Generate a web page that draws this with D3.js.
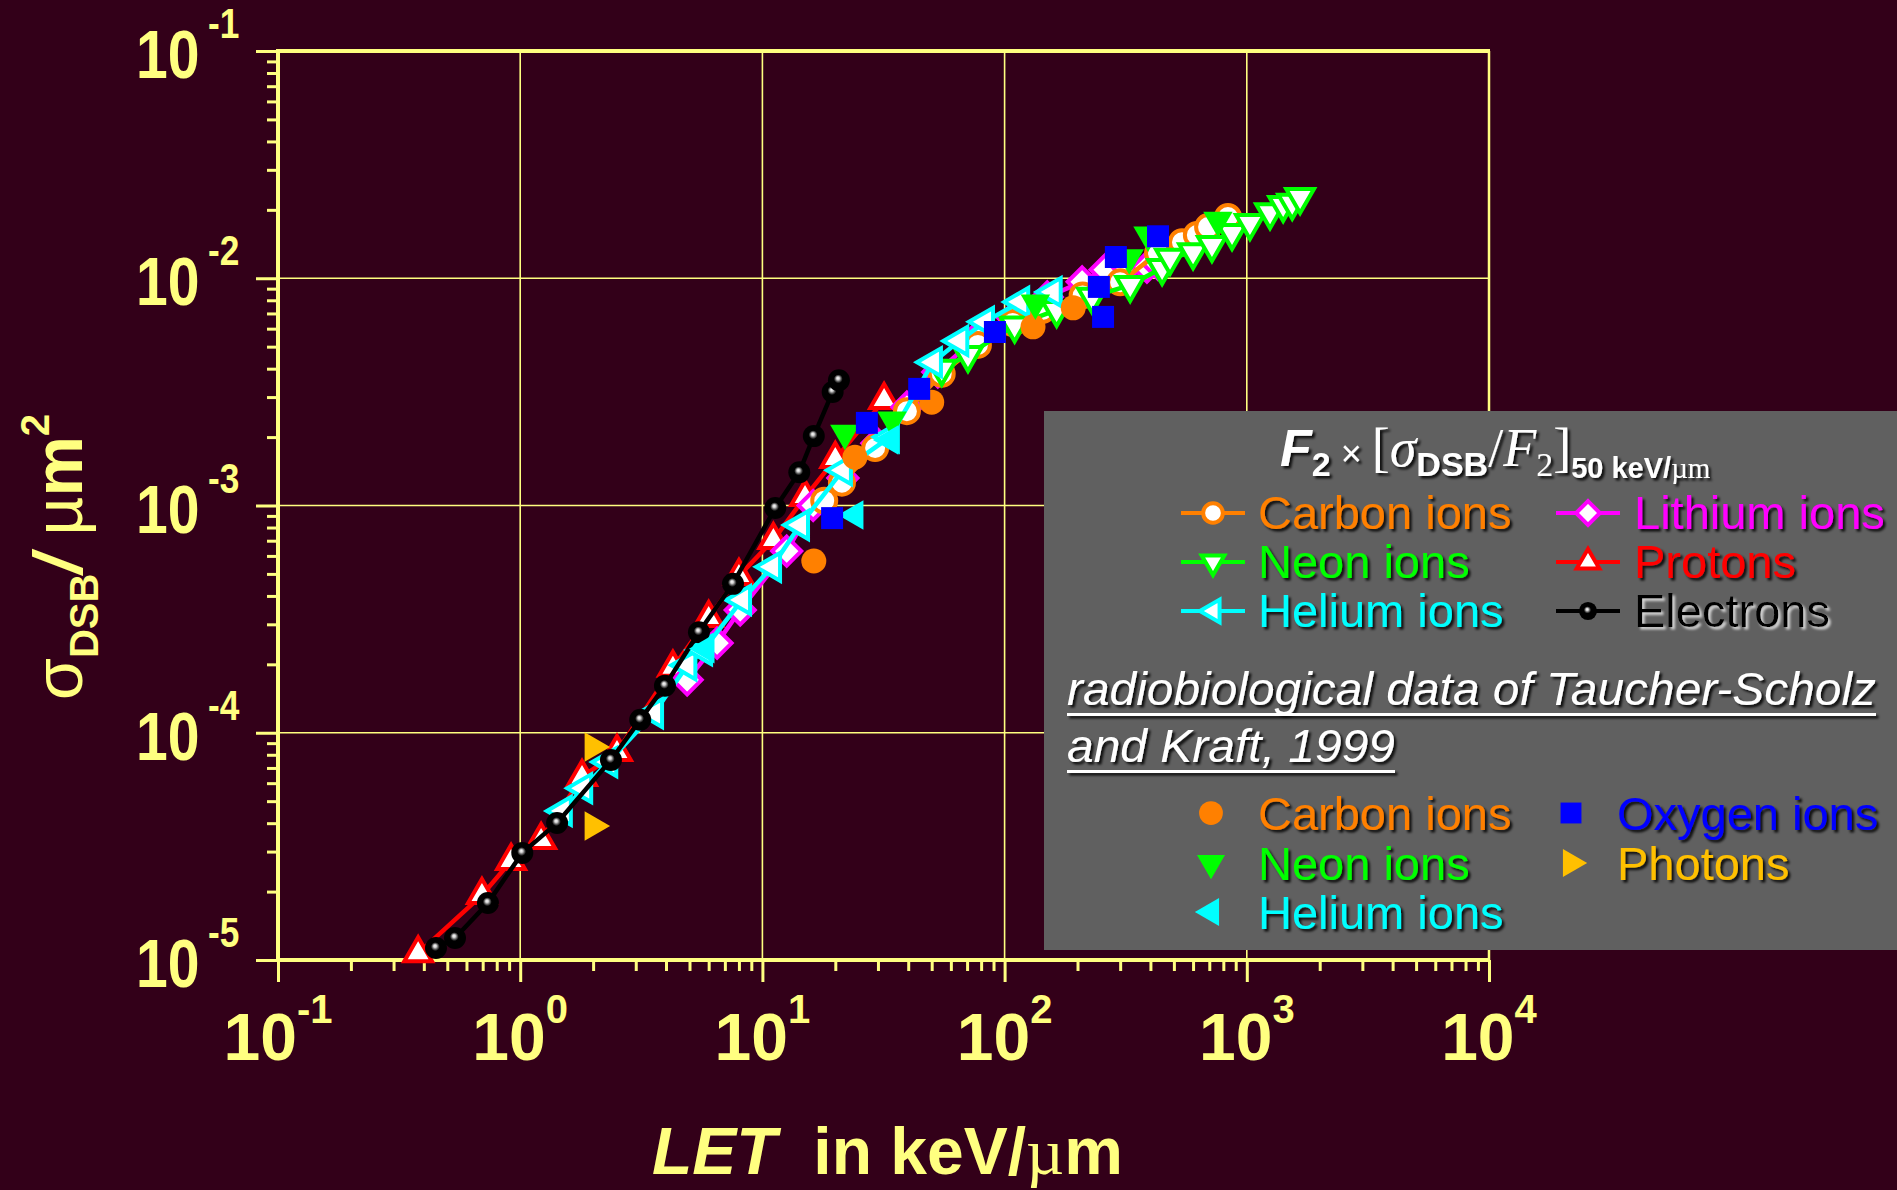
<!DOCTYPE html>
<html>
<head>
<meta charset="utf-8">
<script src="https://cdn.jsdelivr.net/npm/d3@7"></script>
<style>
  html, body { margin: 0; padding: 0; background: #330019; overflow: hidden; }
  text { font-family: "Liberation Sans", Arial, sans-serif; }
</style>
</head>
<body>
<svg id="chart" width="1897" height="1190"></svg>
<script>
// ---- data: [LET keV/um, sigma_DSB um^2] ----
// model curves F2 x [sigma/F2]50keV/um
const electrons = [[0.449,1.13e-5],[0.538,1.25e-5],[0.736,1.78e-5],[1.02,2.96e-5],[1.42,4.01e-5],[2.37,7.59e-5],
  [3.13,1.14e-4],[3.96,1.61e-4],[5.47,2.77e-4],[7.56,4.52e-4],[11.3,9.75e-4],[14.2,1.40e-3],[16.3,2.02e-3],
  [19.5,3.16e-3],[20.7,3.56e-3]];
const protons = [[0.379,1.07e-5],[0.695,1.93e-5],[0.917,2.73e-5],[1.22,3.37e-5],[1.80,6.38e-5],[2.51,8.22e-5],
  [4.27,1.93e-4],[6.0,3.2e-4],[8.0,4.9e-4],[11.1,7.05e-4],[15.0,1.09e-3],[20.0,1.6e-3],[31.8,2.91e-3]];
const helium = [[1.50,4.53e-5],[1.82,5.7e-5],[2.31,7.43e-5],[3.57,1.22e-4],[4.9,1.98e-4],[5.69,2.31e-4],
  [8.24,3.84e-4],[10.96,5.37e-4],[14.3,8.2e-4],[21.5,1.43e-3],[33.6,2.0e-3],[50.6,4.27e-3],[65,5.3e-3],
  [83,6.43e-3],[116,7.87e-3],[158,8.7e-3]];
const lithium = [[4.89,1.71e-4],[6.5,2.48e-4],[8.1,3.47e-4],[12.6,6.3e-4],[16.2,1.0e-3],[21.5,1.32e-3],
  [29.7,1.88e-3],[39.5,2.71e-3],[53,3.87e-3],[76.9,5.52e-3],[108,6.68e-3],[150,8.28e-3],[209,9.64e-3],
  [260,1.09e-2],[320,1.12e-2],[387,1.12e-2],[430,1.15e-2]];
const carbon = [[18,1.05e-3],[21.3,1.26e-3],[29.2,1.79e-3],[39.5,2.6e-3],[55,3.8e-3],[77.6,5.09e-3],
  [108,6.35e-3],[143,7.24e-3],[210,8.4e-3],[300,9.6e-3],[430,1.29e-2],[540,1.44e-2],[622,1.55e-2],
  [692,1.68e-2],[836,1.86e-2]];
const neon = [[55,4.0e-3],[70.6,4.6e-3],[110,6.2e-3],[164,7.24e-3],[230,8.3e-3],[330,9.33e-3],[447,1.11e-2],
  [482,1.23e-2],[600,1.3e-2],[718,1.4e-2],[869,1.58e-2],[1030,1.75e-2],[1247,1.95e-2],[1413,2.1e-2],
  [1540,2.15e-2],[1660,2.28e-2]];
// radiobiological data (Taucher-Scholz and Kraft, 1999)
const carbonData = [[16.3,5.7e-4],[24.1,1.63e-3],[50,2.85e-3],[131,6.11e-3],[192,7.41e-3]];
const oxygenData = [[19.4,8.8e-4],[27,2.31e-3],[44.4,3.26e-3],[91.2,5.8e-3],[245,9.16e-3],[255,6.76e-3],
  [288,1.24e-2],[430,1.53e-2]];
const neonData = [[21.9,2.08e-3],[34.3,2.38e-3],[134,7.78e-3],[327,1.23e-2],[391,1.55e-2],[760,1.8e-2]];
const heliumData = [[5.85,2.34e-4],[24.1,9.08e-4],[33.6,1.94e-3]];
const photonData = [[2.0,8.65e-5],[2.0,3.89e-5]];

const xDecades = [0.1, 1, 10, 100, 1000, 10000];
const xExponents = ["-1", "0", "1", "2", "3", "4"];
const yDecades = [1e-5, 1e-4, 1e-3, 1e-2, 1e-1];
const yExponents = ["-5", "-4", "-3", "-2", "-1"];

const YEL = "#ffff80";
const svg = d3.select("#chart");
svg.append("rect").attr("width", 1897).attr("height", 1190).attr("fill", "#330019");

const defs = svg.append("defs");
const f = defs.append("filter").attr("id", "shadow").attr("filterUnits", "userSpaceOnUse")
  .attr("x", 0).attr("y", 0).attr("width", 1897).attr("height", 1190);
f.append("feDropShadow").attr("dx", 2.5).attr("dy", 2.5).attr("stdDeviation", 1).attr("flood-color", "#000").attr("flood-opacity", 0.85);
const f2 = defs.append("filter").attr("id", "shadowLight").attr("filterUnits", "userSpaceOnUse")
  .attr("x", 0).attr("y", 0).attr("width", 1897).attr("height", 1190);
f2.append("feDropShadow").attr("dx", 2.5).attr("dy", 2.5).attr("stdDeviation", 1).attr("flood-color", "#e0e0e0").attr("flood-opacity", 0.9);
const g = defs.append("radialGradient").attr("id", "ball").attr("fx", 0.45).attr("fy", 0.4);
g.append("stop").attr("offset", "0%").attr("stop-color", "#ffffff");
g.append("stop").attr("offset", "14%").attr("stop-color", "#cccccc");
g.append("stop").attr("offset", "28%").attr("stop-color", "#555555");
g.append("stop").attr("offset", "40%").attr("stop-color", "#000000");

const x = d3.scaleLog().domain([0.1, 1e4]).range([278, 1489]);
const y = d3.scaleLog().domain([1e-5, 1e-1]).range([960, 51]);

// grid
const grid = svg.append("g").attr("stroke", YEL).attr("stroke-width", 1.6);
grid.selectAll("line.v").data(xDecades.slice(1, -1)).join("line")
  .attr("x1", d => x(d)).attr("x2", d => x(d)).attr("y1", y(1e-1)).attr("y2", y(1e-5));
grid.selectAll("line.h").data(yDecades.slice(1, -1)).join("line")
  .attr("x1", x(0.1)).attr("x2", x(1e4)).attr("y1", d => y(d)).attr("y2", d => y(d));

// ticks via d3 axes
const minorX = x.ticks().filter(d => !xDecades.some(v => Math.abs(v - d) / v < 1e-9));
const minorY = y.ticks().filter(d => !yDecades.some(v => Math.abs(v - d) / v < 1e-9));
function styleAxis(sel) {
  sel.select(".domain").remove();
  sel.selectAll(".tick line").attr("stroke", YEL).attr("stroke-width", 3);
  sel.selectAll(".tick text").remove();
}
svg.append("g").attr("transform", `translate(0,${y(1e-5)})`)
  .call(d3.axisBottom(x).tickValues(minorX).tickSize(11).tickFormat("")).call(styleAxis);
svg.append("g").attr("transform", `translate(0,${y(1e-5)})`)
  .call(d3.axisBottom(x).tickValues(xDecades).tickSize(22).tickFormat("")).call(styleAxis);
svg.append("g").attr("transform", `translate(${x(0.1)},0)`)
  .call(d3.axisLeft(y).tickValues(minorY).tickSize(11).tickFormat("")).call(styleAxis);
svg.append("g").attr("transform", `translate(${x(0.1)},0)`)
  .call(d3.axisLeft(y).tickValues(yDecades).tickSize(22).tickFormat("")).call(styleAxis);

// frame
const frame = svg.append("g").attr("stroke", YEL);
frame.append("line").attr("x1", x(0.1)).attr("x2", x(0.1)).attr("y1", y(1e-1) - 2).attr("y2", y(1e-5) + 2).attr("stroke-width", 4);
frame.append("line").attr("x1", x(0.1) - 2).attr("x2", x(1e4) + 1).attr("y1", y(1e-5)).attr("y2", y(1e-5)).attr("stroke-width", 4);
frame.append("line").attr("x1", x(0.1) - 2).attr("x2", x(1e4) + 1).attr("y1", y(1e-1)).attr("y2", y(1e-1)).attr("stroke-width", 4);
frame.append("line").attr("x1", x(1e4)).attr("x2", x(1e4)).attr("y1", y(1e-1)).attr("y2", y(1e-5)).attr("stroke-width", 2.5);

// tick labels
const xl = svg.append("g").attr("fill", YEL).attr("font-weight", "bold");
xDecades.forEach((d, i) => {
  const t = xl.append("text").attr("x", x(d)).attr("y", 1060).attr("text-anchor", "middle");
  t.append("tspan").attr("font-size", 66).text("10");
  t.append("tspan").attr("font-size", 40).attr("dy", -37).text(xExponents[i]);
});
const yl = svg.append("g").attr("fill", YEL).attr("font-weight", "bold");
yDecades.forEach((d, i) => {
  const t = yl.append("text").attr("transform", `translate(136,${y(d) + 27}) scale(0.84,1)`);
  t.append("tspan").attr("font-size", 68).text("10");
  t.append("tspan").attr("font-size", 42).attr("dx", 10).attr("dy", -40).text(yExponents[i]);
});

// axis titles
const xt = svg.append("text").attr("x", 652).attr("y", 1174).attr("fill", YEL).attr("font-weight", "bold").attr("font-size", 66);
xt.append("tspan").attr("font-style", "italic").text("LET");
xt.append("tspan").attr("xml:space", "preserve").text("  in keV/");
xt.append("tspan").attr("font-family", "'Liberation Serif', serif").attr("font-weight", "normal").text("µ");
xt.append("tspan").text("m");

const yt = svg.append("text").attr("transform", "translate(82,700) rotate(-90)").attr("fill", YEL).attr("font-size", 68);
yt.append("tspan").text("σ");
yt.append("tspan").attr("font-size", 40).attr("font-weight", "bold").attr("dy", 16).text("DSB");
yt.append("tspan").attr("font-weight", "bold").attr("font-style", "italic").attr("dy", -16).text("/");
yt.append("tspan").attr("xml:space", "preserve").text(" µ");
yt.append("tspan").attr("font-weight", "bold").text("m");
yt.append("tspan").attr("font-size", 40).attr("font-weight", "bold").attr("dy", -33).text("2");

// marker shapes
function shape(type, R) {
  const s = Math.sqrt(3) / 2;
  switch (type) {
    case "up": return `M0,${-R}L${s * R},${R / 2}L${-s * R},${R / 2}Z`;
    case "down": return `M0,${R}L${s * R},${-R / 2}L${-s * R},${-R / 2}Z`;
    case "left": return `M${-R},0L${R / 2},${-s * R}L${R / 2},${s * R}Z`;
    case "right": return `M${R},0L${-R / 2},${-s * R}L${-R / 2},${s * R}Z`;
    case "diamond": return `M0,${-R}L${R},0L0,${R}L${-R},0Z`;
    case "square": return `M${-R},${-R}H${R}V${R}H${-R}Z`;
    default: return `M${R},0A${R},${R} 0 1,1 ${-R},0A${R},${R} 0 1,1 ${R},0Z`;
  }
}

const modelSeries = [
  { name: "Protons", color: "#ff0000", type: "up", R: 16, data: protons },
  { name: "Lithium ions", color: "#ff00ff", type: "diamond", R: 14.5, data: lithium },
  { name: "Carbon ions", color: "#ff8000", type: "circle", R: 12, data: carbon },
  { name: "Neon ions", color: "#00ff00", type: "down", R: 16, data: neon },
  { name: "Helium ions", color: "#00ffff", type: "left", R: 16, data: helium },
  { name: "Electrons", color: "#000000", type: "ball", R: 11, data: electrons }
];
const dataSeries = [
  { name: "Carbon ions", color: "#ff8000", type: "circle", R: 12.5, data: carbonData },
  { name: "Neon ions", color: "#00ff00", type: "down", R: 17, data: neonData },
  { name: "Helium ions", color: "#00ffff", type: "left", R: 17, data: heliumData },
  { name: "Oxygen ions", color: "#0000ff", type: "square", R: 11, data: oxygenData },
  { name: "Photons", color: "#ffc000", type: "right", R: 17, data: photonData }
];

const line = d3.line().x(d => x(d[0])).y(d => y(d[1]));
const plot = svg.append("g");

function drawMarker(sel, s, open) {
  if (s.type === "ball") {
    sel.append("circle").attr("r", s.R).attr("fill", "url(#ball)");
  } else if (open) {
    sel.append("path").attr("d", shape(s.type, s.R)).attr("fill", "#ffffff")
      .attr("stroke", s.color).attr("stroke-width", 4).attr("stroke-linejoin", "miter");
  } else {
    sel.append("path").attr("d", shape(s.type, s.R)).attr("fill", s.color);
  }
}

modelSeries.forEach(s => {
  const gs = plot.append("g");
  gs.append("path").datum(s.data).attr("d", line).attr("fill", "none")
    .attr("stroke", s.color).attr("stroke-width", 4.5);
  gs.selectAll("g.m").data(s.data).join("g")
    .attr("transform", d => `translate(${x(d[0])},${y(d[1])})`)
    .each(function () { drawMarker(d3.select(this), s, true); });
});
dataSeries.forEach(s => {
  plot.append("g").selectAll("g").data(s.data).join("g")
    .attr("transform", d => `translate(${x(d[0])},${y(d[1])})`)
    .each(function () { drawMarker(d3.select(this), s, false); });
});

// legend
const lg = svg.append("g");
lg.append("rect").attr("x", 1044).attr("y", 411).attr("width", 860).attr("height", 539).attr("fill", "#606060");

const title = lg.append("text").attr("x", 1280).attr("y", 466).attr("fill", "#ffffff").attr("filter", "url(#shadow)");
title.append("tspan").attr("font-weight", "bold").attr("font-style", "italic").attr("font-size", 52).text("F");
title.append("tspan").attr("font-weight", "bold").attr("font-size", 34).attr("dy", 10).text("2");
title.append("tspan").attr("font-size", 36).attr("dy", -10).attr("xml:space", "preserve").text(" × ");
const serif = "'Liberation Serif', 'Times New Roman', serif";
title.append("tspan").attr("font-family", serif).attr("font-size", 54).text("[");
title.append("tspan").attr("font-family", serif).attr("font-style", "italic").attr("font-size", 54).text("σ");
title.append("tspan").attr("font-weight", "bold").attr("font-size", 34).attr("dy", 10).text("DSB");
title.append("tspan").attr("font-family", serif).attr("font-size", 54).attr("dy", -10).text("/");
title.append("tspan").attr("font-family", serif).attr("font-style", "italic").attr("font-size", 54).text("F");
title.append("tspan").attr("font-family", serif).attr("font-size", 34).attr("dy", 10).text("2");
title.append("tspan").attr("font-family", serif).attr("font-size", 54).attr("dy", -10).text("]");
title.append("tspan").attr("font-weight", "bold").attr("font-size", 29).attr("dy", 12).text("50 keV/");
title.append("tspan").attr("font-family", serif).attr("font-size", 29).text("µm");

const modelLegend = [
  { s: modelSeries[2], col: 0, row: 0 }, { s: modelSeries[3], col: 0, row: 1 }, { s: modelSeries[4], col: 0, row: 2 },
  { s: modelSeries[1], col: 1, row: 0 }, { s: modelSeries[0], col: 1, row: 1 }, { s: modelSeries[5], col: 1, row: 2 }
];
const mCols = [{ m: 1213, t: 1258 }, { m: 1588, t: 1634 }];
const mRows = [529, 578, 627];
modelLegend.forEach(e => {
  const cx = mCols[e.col].m, by = mRows[e.row], cy = by - 16;
  lg.append("line").attr("x1", cx - 32).attr("x2", cx + 32).attr("y1", cy).attr("y2", cy)
    .attr("stroke", e.s.color).attr("stroke-width", 4);
  drawMarker(lg.append("g").attr("transform", `translate(${cx},${cy})`), Object.assign({}, e.s, { R: e.s.R * 0.82 }), true);
  lg.append("text").attr("x", mCols[e.col].t).attr("y", by).attr("font-size", 47).attr("fill", e.s.color)
    .attr("filter", e.s.color === "#000000" ? "url(#shadowLight)" : "url(#shadow)").text(e.s.name);
});

lg.append("text").attr("x", 1067).attr("y", 705).attr("font-size", 46).attr("font-style", "italic")
  .attr("fill", "#ffffff").attr("filter", "url(#shadow)").attr("textLength", 809).attr("lengthAdjust", "spacingAndGlyphs")
  .text("radiobiological data of Taucher-Scholz");
lg.append("text").attr("x", 1067).attr("y", 762).attr("font-size", 46).attr("font-style", "italic")
  .attr("fill", "#ffffff").attr("filter", "url(#shadow)").attr("textLength", 328).attr("lengthAdjust", "spacingAndGlyphs")
  .text("and Kraft, 1999");
lg.append("rect").attr("x", 1067).attr("y", 713).attr("width", 809).attr("height", 3).attr("fill", "#fff").attr("filter", "url(#shadow)");
lg.append("rect").attr("x", 1067).attr("y", 770).attr("width", 328).attr("height", 3).attr("fill", "#fff").attr("filter", "url(#shadow)");

const dataLegend = [
  { s: dataSeries[0], col: 0, row: 0 }, { s: dataSeries[1], col: 0, row: 1 }, { s: dataSeries[2], col: 0, row: 2 },
  { s: dataSeries[3], col: 1, row: 0 }, { s: dataSeries[4], col: 1, row: 1 }
];
const dCols = [{ m: 1211, t: 1258 }, { m: 1571, t: 1617 }];
const dRows = [830, 880, 929];
dataLegend.forEach(e => {
  const cx = dCols[e.col].m, by = dRows[e.row], cy = by - 17;
  drawMarker(lg.append("g").attr("transform", `translate(${cx},${cy})`), Object.assign({}, e.s, { R: e.s.R * 0.95 }), false);
  lg.append("text").attr("x", dCols[e.col].t).attr("y", by).attr("font-size", 47).attr("fill", e.s.color)
    .attr("filter", "url(#shadow)").text(e.s.name);
});
</script>
</body>
</html>
